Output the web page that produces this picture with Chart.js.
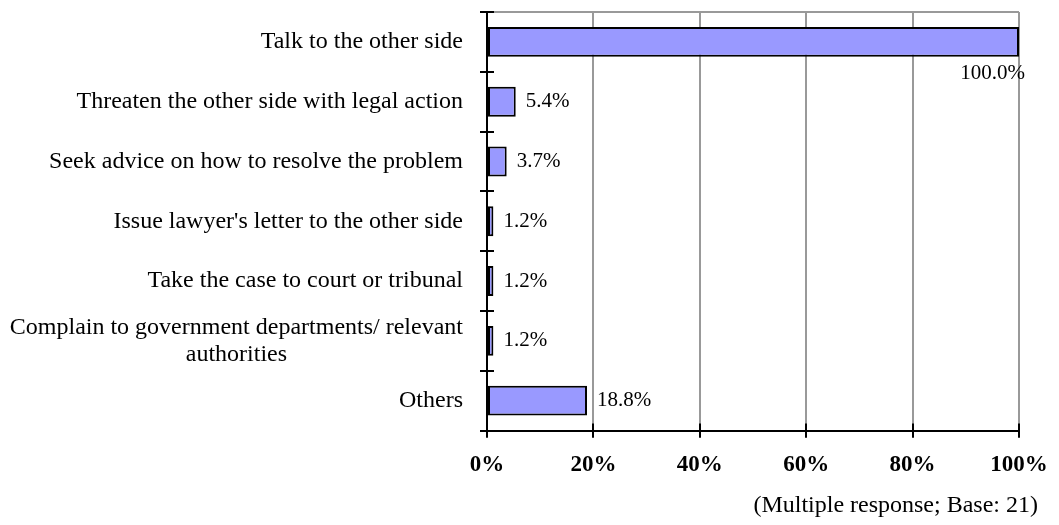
<!DOCTYPE html>
<html>
<head>
<meta charset="utf-8">
<script src="https://cdn.jsdelivr.net/npm/chart.js@4.4.1/dist/chart.umd.min.js"></script>
<style>
  html, body { margin: 0; padding: 0; background: #fff; }
  #wrap { width: 1059px; height: 525px; position: relative; }
</style>
</head>
<body>
<div id="wrap"><canvas id="chart"></canvas></div>
<script>
// Categories, top to bottom (a nested array = label on two lines)
const categories = [
    "Talk to the other side",
    "Threaten the other side with legal action",
    "Seek advice on how to resolve the problem",
    "Issue lawyer's letter to the other side",
    "Take the case to court or tribunal",
    ["Complain to government departments/ relevant", "authorities"],
    "Others"
];
const shares = [100.0, 5.4, 3.7, 1.2, 1.2, 1.2, 18.8];
const axisMax = 100;
const axisStep = 20;
const footnote = "(Multiple response; Base: 21)";

const serif = "'Liberation Serif', 'Times New Roman', serif";
const gridGrey = '#999999';
const tickIn = 7;

// y axis labels: right aligned block, multi-line labels centred inside it
const categoryLabels = {
    id: 'categoryLabels',
    afterDraw(chart) {
        const { ctx, chartArea } = chart;
        const yScale = chart.scales.y;
        const right = chartArea.left - 24;
        const lineH = 27;
        ctx.save();
        ctx.font = '24px ' + serif;
        ctx.fillStyle = '#000';
        ctx.textBaseline = 'middle';
        ctx.textAlign = 'center';
        categories.forEach((label, i) => {
            const lines = Array.isArray(label) ? label : [label];
            const y = yScale.getPixelForValue(i);
            const widest = Math.max(...lines.map(l => ctx.measureText(l).width));
            const cx = right - widest / 2;
            lines.forEach((line, j) => {
                ctx.fillText(line, cx, y + (j - (lines.length - 1) / 2) * lineH);
            });
        });
        ctx.restore();
    }
};

// value labels at the end of each bar
const valueLabels = {
    id: 'valueLabels',
    afterDatasetsDraw(chart) {
        const { ctx } = chart;
        const meta = chart.getDatasetMeta(0);
        ctx.save();
        ctx.font = '21px ' + serif;
        ctx.fillStyle = '#000';
        ctx.textBaseline = 'middle';
        meta.data.forEach((bar, i) => {
            const text = shares[i].toFixed(1) + '%';
            const w = ctx.measureText(text).width;
            if (bar.x + 10 + w > chart.width) {
                // no room on the right: put it under the bar end
                ctx.textAlign = 'right';
                ctx.fillText(text, bar.x + 6, bar.y + bar.height / 2 + 17);
            } else {
                ctx.textAlign = 'left';
                ctx.fillText(text, bar.x + 10, bar.y);
            }
        });
        ctx.restore();
    }
};

// grey top edge, tick marks crossing the axes, footnote
const frame = {
    id: 'frame',
    afterDraw(chart) {
        const { ctx, chartArea } = chart;
        const { left, right, top, bottom } = chartArea;
        ctx.save();
        ctx.strokeStyle = gridGrey;
        ctx.lineWidth = 2;
        ctx.beginPath();
        ctx.moveTo(left, top);
        ctx.lineTo(right, top);
        ctx.stroke();

        ctx.strokeStyle = '#000';
        ctx.beginPath();
        const n = categories.length;
        for (let i = 0; i <= n; i++) {
            const y = Math.round(top + i * (bottom - top) / n);
            ctx.moveTo(left - tickIn, y);
            ctx.lineTo(left + tickIn, y);
        }
        chart.scales.x.ticks.forEach(t => {
            const x = Math.round(chart.scales.x.getPixelForValue(t.value));
            ctx.moveTo(x, bottom - tickIn);
            ctx.lineTo(x, bottom + tickIn);
        });
        ctx.stroke();

        ctx.font = '24px ' + serif;
        ctx.fillStyle = '#000';
        ctx.textAlign = 'right';
        ctx.textBaseline = 'middle';
        ctx.fillText(footnote, 1038, 506);
        ctx.restore();
    }
};

new Chart(document.getElementById('chart'), {
    type: 'bar',
    data: {
        labels: categories,
        datasets: [{
            data: shares,
            backgroundColor: '#9999FF',
            borderColor: '#000',
            borderWidth: 2,
            borderSkipped: false,
            barPercentage: 0.5,
            categoryPercentage: 1.0
        }]
    },
    options: {
        indexAxis: 'y',
        responsive: true,
        maintainAspectRatio: false,
        animation: false,
        layout: {
            padding: { left: 480, right: 40, top: 12, bottom: 33 }
        },
        plugins: {
            legend: { display: false },
            tooltip: { enabled: false }
        },
        scales: {
            x: {
                min: 0,
                max: axisMax,
                ticks: {
                    stepSize: axisStep,
                    padding: 10,
                    color: '#000',
                    font: { family: serif, size: 23, weight: 'bold', lineHeight: 1.5 },
                    callback: v => v + '%'
                },
                grid: {
                    color: ctx => (ctx.tick && ctx.tick.value === 0) ? 'rgba(0,0,0,0)' : gridGrey,
                    lineWidth: 2,
                    tickColor: '#000',
                    tickWidth: 2,
                    tickLength: tickIn
                },
                border: { color: '#000', width: 2 }
            },
            y: {
                ticks: { display: false },
                grid: {
                    drawOnChartArea: false,
                    offset: true,
                    color: '#000',
                    lineWidth: 2,
                    tickLength: tickIn
                },
                border: { color: '#000', width: 2 }
            }
        }
    },
    plugins: [categoryLabels, valueLabels, frame]
});
</script>
</body>
</html>
